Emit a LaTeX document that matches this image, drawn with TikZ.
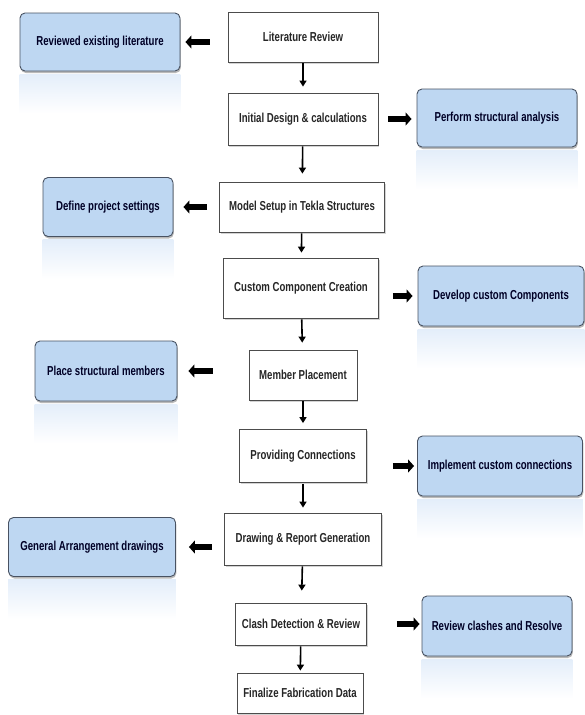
\documentclass[tikz,border=0pt]{standalone}
\usepackage{fontspec}
\usepackage{xcolor}
\usetikzlibrary{arrows.meta,shadows}
\newfontfamily\narrowsf{Liberation Sans}[FakeStretch=0.74]
\definecolor{sideblue}{RGB}{190,215,242}
\definecolor{sideedge}{RGB}{72,82,98}
\definecolor{fadeblue}{RGB}{228,238,250}
\tikzset{
  stepbox/.style={draw=black!70, line width=0.8pt, fill=white,
    drop shadow={shadow xshift=1pt, shadow yshift=-1.5pt, opacity=0.35},
    font=\narrowsf\bfseries\fontsize{13}{15}\selectfont, text=black!85},
  sidebox/.style={draw=sideedge, line width=0.9pt, fill=sideblue, rounded corners=5pt,
    drop shadow={shadow xshift=0.8pt, shadow yshift=-2pt, opacity=0.55},
    font=\narrowsf\bfseries\fontsize{13}{15}\selectfont, text=black!85!blue},
  reflect/.style={top color=fadeblue, bottom color=white, draw=none},
  downarrow/.style={line width=1.6pt, -{Triangle[length=6pt,width=7pt]}},
  bigarrow/.style={line width=6pt, -{Triangle[length=6pt,width=13pt]}}
}
\begin{document}
\begin{tikzpicture}[x=1pt, y=-1pt]
        \useasboundingbox (0, 0) rectangle (585, 715);
        % main steps
        \node[stepbox, minimum width=150pt, minimum height=50pt] at (303, 37) (lit) {Literature Review};
        \node[stepbox, minimum width=150pt, minimum height=52pt] at (303, 119) (init) {Initial Design \& calculations};
        \node[stepbox, minimum width=165pt, minimum height=50pt] at (302, 207) (model) {Model Setup in Tekla Structures};
        \node[stepbox, minimum width=155pt, minimum height=60pt] at (301, 288) (custom) {Custom Component Creation};
        \node[stepbox, minimum width=108pt, minimum height=50pt] at (303, 375) (member) {Member Placement};
        \node[stepbox, minimum width=127pt, minimum height=53pt] at (303, 456) (prov) {Providing Connections};
        \node[stepbox, minimum width=157pt, minimum height=52pt] at (303, 539) (drawing) {Drawing \& Report Generation};
        \node[stepbox, minimum width=131pt, minimum height=42pt] at (301, 624) (clash) {Clash Detection \& Review};
        \node[stepbox, minimum width=126pt, minimum height=40pt] at (300, 693) (final) {Finalize Fabrication Data};
        % side tasks
        \node[sidebox, minimum width=160pt, minimum height=58pt] at (100, 42) (rev) {Reviewed existing literature};
        \node[sidebox, minimum width=130pt, minimum height=59pt] at (108, 207) (define) {Define project settings};
        \node[sidebox, minimum width=142pt, minimum height=60pt] at (106, 371) (place) {Place structural members};
        \node[sidebox, minimum width=167pt, minimum height=59pt] at (92, 547) (general) {General Arrangement drawings};
        \node[sidebox, minimum width=160pt, minimum height=58pt] at (497, 118) (perform) {Perform structural analysis};
        \node[sidebox, minimum width=166pt, minimum height=60pt] at (501, 296) (develop) {Develop custom Components};
        \node[sidebox, minimum width=165pt, minimum height=60pt] at (500, 466) (implement) {Implement custom connections};
        \node[sidebox, minimum width=150pt, minimum height=60pt] at (497, 626) (review) {Review clashes and Resolve};
        % faded reflections
        \foreach \b in {rev, define, place, general, perform, develop, implement, review}
          \shade[reflect] ([yshift=-3pt]\b.south west) rectangle ([yshift=-42pt]\b.south east);
        % flow
        \draw[downarrow, shorten <=1pt, shorten >=6pt] (lit) -- (init);
        \draw[downarrow, shorten <=1pt, shorten >=8pt] (init) -- (model);
        \draw[downarrow, shorten <=1pt, shorten >=5pt] (model) -- (custom);
        \draw[downarrow, shorten <=1pt, shorten >=7pt] (custom) -- (member);
        \draw[downarrow, shorten <=1pt, shorten >=6pt] (member) -- (prov);
        \draw[downarrow, shorten <=1pt, shorten >=5pt] (prov) -- (drawing);
        \draw[downarrow, shorten <=1pt, shorten >=12pt] (drawing) -- (clash);
        \draw[downarrow, shorten <=1pt, shorten >=2pt] (clash) -- (final);
        % to the side tasks
        \draw[bigarrow, shorten <=18pt, shorten >=5pt] (lit.west |- rev.east) -- (rev.east);
        \draw[bigarrow, shorten <=12pt, shorten >=10pt] (model.west |- define.east) -- (define.east);
        \draw[bigarrow, shorten <=36pt, shorten >=11pt] (member.west |- place.east) -- (place.east);
        \draw[bigarrow, shorten <=12pt, shorten >=13pt] (drawing.west |- general.east) -- (general.east);
        \draw[bigarrow, shorten <=10pt, shorten >=5pt] (init.east) -- (init.east -| perform.west);
        \draw[bigarrow, shorten <=14pt, shorten >=5pt] (custom.east |- develop.west) -- (develop.west);
        \draw[bigarrow, shorten <=26pt, shorten >=3pt] (prov.east |- implement.west) -- (implement.west);
        \draw[bigarrow, shorten <=30pt, shorten >=2pt] (clash.east) -- (clash.east -| review.west);
\end{tikzpicture}
\end{document}
